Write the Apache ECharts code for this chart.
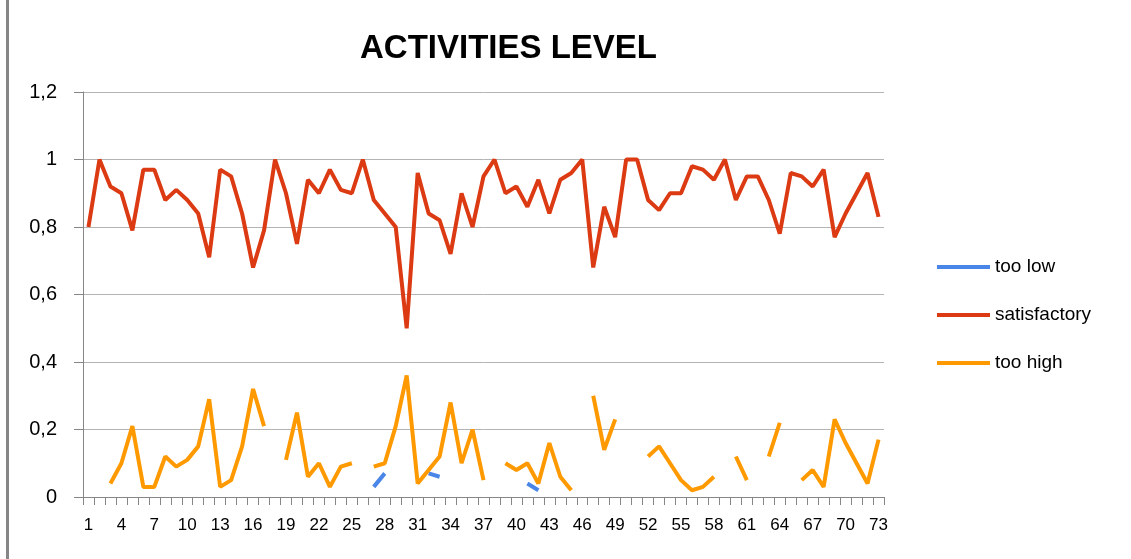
<!DOCTYPE html>
<html>
<head>
<meta charset="utf-8">
<title>Activities level</title>
<script src="https://cdn.jsdelivr.net/npm/echarts@6/dist/echarts.min.js"></script>
<style>
  html, body { margin: 0; padding: 0; background: #fff; }
  #chart { width: 1131px; height: 559px; }
</style>
</head>
<body>
<div id="chart"></div>
<script>
// categories 1..73 (one per observation)
const days = Array.from({ length: 73 }, (_, i) => String(i + 1))

const tooLow = [
  null, null, null, null, null, null, null, null, null, null,
  null, null, null, null, null, null, null, null, null, null,
  null, null, null, null, null, null, 0.03, 0.07, null, null,
  null, 0.07, 0.06, null, null, null, null, null, null, null,
  0.04, 0.02, null, null, null, null, null, null, null, null,
  null, null, null, null, null, null, null, null, null, null,
  null, null, null, null, null, null, null, null, null, null,
  null, null, null,
]

const satisfactory = [
  0.80, 1.00, 0.92, 0.90, 0.79, 0.97, 0.97, 0.88, 0.91, 0.88,
  0.84, 0.71, 0.97, 0.95, 0.84, 0.68, 0.79, 1.00, 0.90, 0.75,
  0.94, 0.90, 0.97, 0.91, 0.90, 1.00, 0.88, 0.84, 0.80, 0.50,
  0.96, 0.84, 0.82, 0.72, 0.90, 0.80, 0.95, 1.00, 0.90, 0.92,
  0.86, 0.94, 0.84, 0.94, 0.96, 1.00, 0.68, 0.86, 0.77, 1.00,
  1.00, 0.88, 0.85, 0.90, 0.90, 0.98, 0.97, 0.94, 1.00, 0.88,
  0.95, 0.95, 0.88, 0.78, 0.96, 0.95, 0.92, 0.97, 0.77, 0.84,
  0.90, 0.96, 0.83,
]

const tooHigh = [
  null, null, 0.04, 0.10, 0.21, 0.03, 0.03, 0.12, 0.09, 0.11,
  0.15, 0.29, 0.03, 0.05, 0.15, 0.32, 0.21, null, 0.11, 0.25,
  0.06, 0.10, 0.03, 0.09, 0.10, null, 0.09, 0.10, 0.21, 0.36,
  0.04, 0.08, 0.12, 0.28, 0.10, 0.20, 0.05, null, 0.10, 0.08,
  0.10, 0.04, 0.16, 0.06, 0.02, null, 0.30, 0.14, 0.23, null,
  null, 0.12, 0.15, 0.10, 0.05, 0.02, 0.03, 0.06, null, 0.12,
  0.05, null, 0.12, 0.22, null, 0.05, 0.08, 0.03, 0.23, 0.16,
  0.10, 0.04, 0.17,
]

const font = 'Liberation Sans, Arial, sans-serif'
const axisGray = '#868686'

const chart = echarts.init(document.getElementById('chart'))

const lineSeries = (name, data, color) => ({
  name,
  type: 'line',
  data,
  symbol: 'none',
  connectNulls: false,
  itemStyle: { color },
  lineStyle: { color, width: 4 },
  emphasis: { disabled: true },
})

chart.setOption({
  animation: false,
  title: {
    text: 'ACTIVITIES LEVEL',
    left: 355,
    top: 27,
    textStyle: { fontFamily: font, fontSize: 33, fontWeight: 'bold', color: '#000' },
  },
  legend: {
    orient: 'vertical',
    left: 932,
    top: 252,
    itemWidth: 53,
    itemHeight: 4,
    itemGap: 28,
    icon: 'rect',
    data: ['too low', 'satisfactory', 'too high'],
    textStyle: { fontFamily: font, fontSize: 19, color: '#000', lineHeight: 20 },
  },
  grid: { left: 83, right: 247, top: 92, bottom: 62 },
  xAxis: {
    type: 'category',
    data: days,
    boundaryGap: true,
    axisLine: { lineStyle: { color: axisGray, width: 1 } },
    axisTick: { show: true, interval: 0, length: 8, lineStyle: { color: axisGray } },
    axisLabel: { interval: 2, margin: 20, fontFamily: font, fontSize: 17, color: '#000' },
    splitLine: { show: false },
  },
  yAxis: {
    type: 'value',
    min: 0,
    max: 1.2,
    interval: 0.2,
    axisLine: { show: true, lineStyle: { color: axisGray, width: 1 } },
    axisTick: { show: true, length: 9, lineStyle: { color: axisGray } },
    axisLabel: {
      margin: 26,
      fontFamily: font,
      fontSize: 20,
      color: '#000',
      formatter: (v) => String(+v.toFixed(1)).replace('.', ','),
    },
    splitLine: { lineStyle: { color: '#b4b4b4', width: 1 } },
  },
  graphic: [
    // grey frame edge on the left of the picture
    { type: 'rect', left: 6, top: 0, shape: { width: 3, height: 559 }, style: { fill: axisGray } },
  ],
  series: [
    lineSeries('too low', tooLow, '#4a86e8'),
    lineSeries('satisfactory', satisfactory, '#dc3a12'),
    lineSeries('too high', tooHigh, '#ff9900'),
  ],
})
</script>
</body>
</html>
